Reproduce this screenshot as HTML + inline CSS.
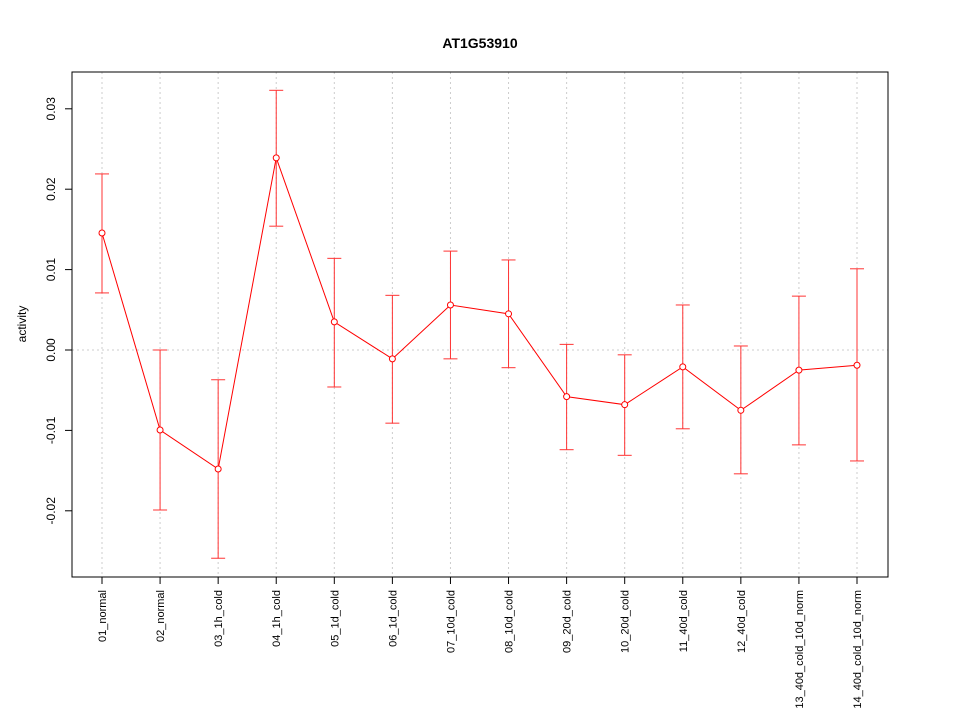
<!DOCTYPE html>
<html><head><meta charset="utf-8"><style>body{margin:0;background:#fff}svg{display:block;font-family:"Liberation Sans",sans-serif}</style></head>
<body>
<svg id="chart" width="960" height="720">
<text x="480" y="48" text-anchor="middle" font-weight="bold" font-size="14">AT1G53910</text>
<text transform="translate(26,324) rotate(-90)" text-anchor="middle" font-size="12">activity</text>
<g id="grid"></g><g id="axes"></g><g id="marks"></g>
<rect x="72" y="72" width="816" height="505" fill="none" stroke="#000"/>
</svg>
<script>
const categories=["01_normal","02_normal","03_1h_cold","04_1h_cold","05_1d_cold","06_1d_cold","07_10d_cold","08_10d_cold","09_20d_cold","10_20d_cold","11_40d_cold","12_40d_cold","13_40d_cold_10d_norm","14_40d_cold_10d_norm"];
const means=[0.01455,-0.00995,-0.0148,0.0239,0.0035,-0.0011,0.0056,0.0045,-0.0058,-0.0068,-0.0021,-0.0075,-0.0025,-0.0019];
const upper=[0.0219,0.0,-0.0037,0.0323,0.0114,0.0068,0.0123,0.0112,0.0007,-0.0006,0.0056,0.0005,0.0067,0.0101];
const lower=[0.0071,-0.0199,-0.0259,0.0154,-0.0046,-0.0091,-0.0011,-0.0022,-0.0124,-0.0131,-0.0098,-0.0154,-0.0118,-0.0138];
const yTicks=[-0.02,-0.01,0,0.01,0.02,0.03];
const yTickLabels=["-0.02","-0.01","0.00","0.01","0.02","0.03"];
const NS="http://www.w3.org/2000/svg";
const x=i=>102+i*(857-102)/(categories.length-1);
const y=v=>350-v*8040;
function mk(p,t,a){const e=document.createElementNS(NS,t);for(const k in a)e.setAttribute(k,a[k]);document.getElementById(p).appendChild(e);return e;}
categories.forEach((c,i)=>{
 const g=mk("grid","line",{x1:x(i),x2:x(i),y1:72,y2:577,stroke:"#ccc","stroke-dasharray":"2,3"});
 
 
 const t=mk("axes","line",{x1:x(i),x2:x(i),y1:577,y2:584,stroke:"#000"});
 
 
 const l=mk("axes","text",{transform:`translate(${x(i)+4},590) rotate(-90)`,"text-anchor":"end","font-size":"11"});
 l.textContent=c;
 
 
});
const zg=mk("grid","line",{x1:72,x2:888,y1:y(0),y2:y(0),stroke:"#ccc","stroke-dasharray":"2,3"});


yTicks.forEach((v,i)=>{
 const t=mk("axes","line",{x1:65,x2:72,y1:y(v),y2:y(v),stroke:"#000"});
 
 
 const l=mk("axes","text",{transform:`translate(55,${y(v)}) rotate(-90)`,"text-anchor":"middle","font-size":"12"});
 l.textContent=yTickLabels[i];
 
 
});
means.forEach((m,i)=>{
 const e=mk("marks","line",{x1:x(i),x2:x(i),y1:y(upper[i]),y2:y(lower[i]),stroke:"#f33"});
 
 
 [upper[i],lower[i]].forEach(v=>{
  const c=mk("marks","line",{x1:x(i)-7,x2:x(i)+7,y1:y(v),y2:y(v),stroke:"#f33"});
  
  
 });
});
const ln=mk("marks","polyline",{points:means.map((m,i)=>x(i)+","+y(m)).join(" "),fill:"none",stroke:"#f00"});


means.forEach((m,i)=>{
 const p=mk("marks","circle",{cx:x(i),cy:y(m),r:3,fill:"#fff",stroke:"#f00"});
 
 
});
</script>
</body></html>
